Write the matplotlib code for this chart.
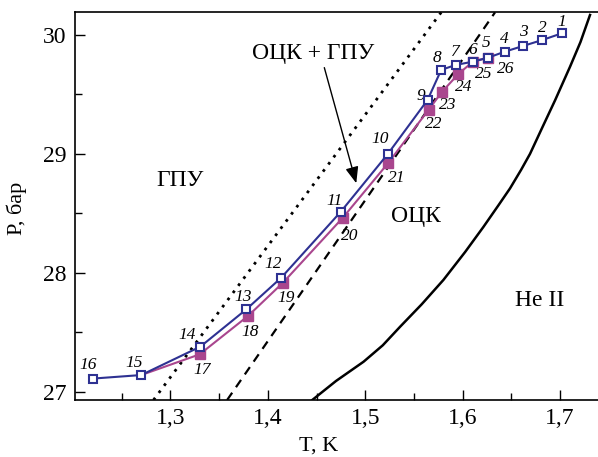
import numpy as np
import matplotlib
matplotlib.use("Agg")
from matplotlib import pyplot as plt
from matplotlib.ticker import MultipleLocator, FuncFormatter

# Blue series, points 1..16 (open squares)
blue_t = [1.702, 1.682, 1.662, 1.6436, 1.6265, 1.6105, 1.593, 1.578, 1.564,
          1.5233, 1.475, 1.4138, 1.378, 1.3308, 1.270, 1.220]
blue_p = [30.014, 29.958, 29.907, 29.86, 29.81, 29.775, 29.748, 29.706, 29.453,
          29.00, 28.514, 27.959, 27.693, 27.379, 27.14, 27.11]

# Magenta series, points 17..26 (filled squares)
pink_t = [1.330, 1.3797, 1.4156, 1.477, 1.5233, 1.565, 1.579, 1.5957, 1.6105, 1.6265]
pink_p = [27.314, 27.637, 27.917, 28.463, 28.92, 29.37, 29.523, 29.672, 29.775, 29.81]

# phase boundary lines
dot_t = [1.2826, 1.578]
dot_p = [26.93, 30.19]
dash_t = [1.3582, 1.6333]
dash_p = [26.93, 30.19]
lam_t = [1.4456, 1.4700, 1.4983, 1.5180, 1.5359, 1.5580, 1.5803, 1.6026, 1.6213,
         1.6370, 1.6487, 1.6600, 1.6692, 1.6820, 1.6949, 1.7103, 1.7210, 1.7308]
lam_p = [26.93, 27.09, 27.252, 27.39, 27.547, 27.735, 27.94, 28.175, 28.385,
         28.57, 28.71, 28.865, 29.00, 29.225, 29.45, 29.733, 29.94, 30.168]

# label offsets (pixels) for point numbers
blue_off = [(0, 11), (0, 12), (0, 14), (-1, 13), (-2, 15), (0, 12), (0, 13), (-4, 12),
            (-7, 4), (-8, 15), (-6, 11), (-8, 14), (-3, 12), (-13, 12), (-7, 12), (-4, 14)]
pink_off = [(2, -16), (2, -16), (3, -15), (7, -18), (9, -15), (5, -14), (6, -13),
            (5, -13), (11, -12), (17, -11)]

blue = '#2E3192'
pink = '#A9468E'

plt.rcParams['font.family'] = ['Liberation Serif', 'DejaVu Serif']

fig = plt.figure(figsize=(5.98, 4.57), dpi=100)
ax = fig.add_axes([0.1254, 0.1247, 0.8746, 0.8483])

ax.plot(dot_t, dot_p, color='black', lw=2.0, linestyle=(0, (1.0, 2.2)))
ax.plot(dash_t, dash_p, color='black', lw=1.6, linestyle=(0, (4, 3)))
ax.plot(lam_t, lam_p, color='black', lw=1.8)

ax.plot([blue_t[14]] + pink_t, [blue_p[14]] + pink_p, color=pink, lw=1.5, zorder=3)
ax.plot(pink_t, pink_p, linestyle='none', marker='s', ms=6.5, color=pink,
        markeredgecolor=pink, zorder=4)
ax.plot(blue_t, blue_p, color=blue, lw=1.5, marker='s', ms=6, markerfacecolor='white',
        markeredgecolor=blue, markeredgewidth=1.5, zorder=5)

for i, (t, p) in enumerate(zip(blue_t, blue_p)):
    ax.annotate(str(i + 1), (t, p), xytext=blue_off[i], textcoords='offset pixels',
                ha='center', va='center', fontsize=12.5, style='italic')
for i, (t, p) in enumerate(zip(pink_t, pink_p)):
    ax.annotate(str(i + 17), (t, p), xytext=pink_off[i], textcoords='offset pixels',
                ha='center', va='center', fontsize=12.5, style='italic')

ax.text(1.310, 28.78, 'ГПУ', fontsize=17, ha='center', va='center')
ax.text(1.552, 28.47, 'ОЦК', fontsize=17, ha='center', va='center')
ax.text(1.6795, 27.77, 'He II', fontsize=17, ha='center', va='center')
ax.text(1.447, 29.846, 'ОЦК + ГПУ', fontsize=17, ha='center', va='center')
ax.annotate('', xy=(1.4908, 28.753), xytext=(1.458, 29.725),
            arrowprops=dict(arrowstyle='-|>,head_length=0.55,head_width=0.22',
                            color='black', lw=1.0, mutation_scale=18,
                            shrinkA=0, shrinkB=0))

ax.set_xlim(1.202, 1.739)
ax.set_ylim(26.93, 30.19)
ax.xaxis.set_major_locator(MultipleLocator(0.1))
ax.xaxis.set_minor_locator(MultipleLocator(0.05))
ax.yaxis.set_major_locator(MultipleLocator(1))
ax.yaxis.set_minor_locator(MultipleLocator(0.5))
ax.xaxis.set_major_formatter(FuncFormatter(lambda v, pos: ('%.1f' % v).replace('.', ',')))
ax.yaxis.set_major_formatter(FuncFormatter(lambda v, pos: '%d' % round(v)))
ax.tick_params(which='both', direction='in', top=False, right=False, labelsize=17, width=1)
ax.tick_params(which='major', length=7, pad=6)
ax.tick_params(which='minor', length=5)
ax.spines['right'].set_visible(False)
for s in ['left', 'bottom', 'top']:
    ax.spines[s].set_linewidth(1.2)

fig.text(319 / 598, 1 - 446 / 457, 'T, K', fontsize=16, ha='center', va='center')
fig.text(16.7 / 598, 1 - 208 / 457, 'P, бар', fontsize=16, ha='center', va='center',
         rotation=90)

fig.savefig('out.png', dpi=100)
